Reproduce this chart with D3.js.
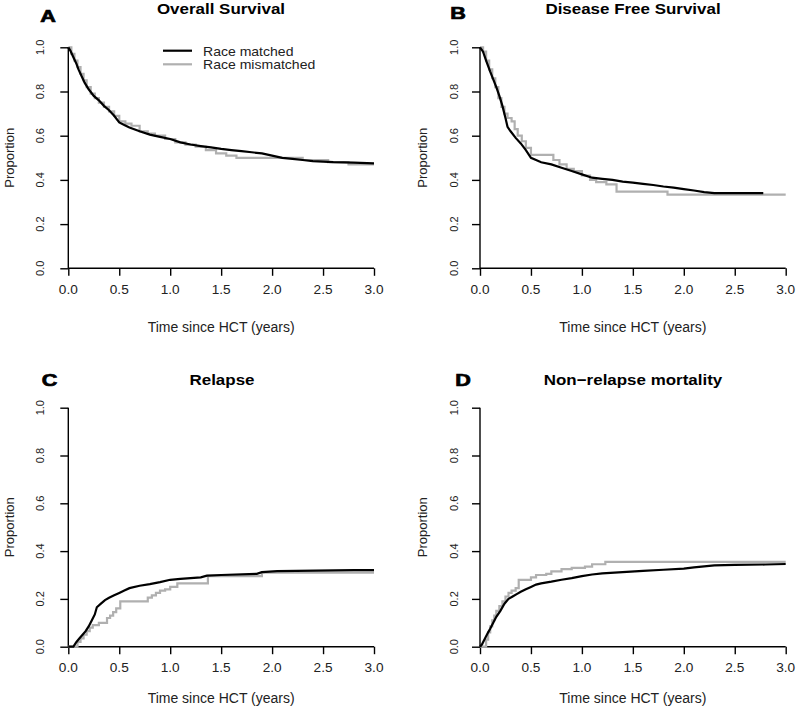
<!DOCTYPE html>
<html><head><meta charset="utf-8">
<script src="https://cdn.jsdelivr.net/npm/d3@7"></script>
<style>body{margin:0;background:#fff}svg{display:block}text{font-family:"Liberation Sans",Arial,Helvetica,sans-serif}</style>
</head><body>
<svg id="chart" width="800" height="707"></svg>
<script>
// ---- DATA ----
const seriesNames = ["Race matched", "Race mismatched"];
const panelLetters = ["A", "B", "C", "D"];
const panelTitles = ["Overall Survival", "Disease Free Survival", "Relapse", "Non\u2212relapse mortality"];
const xTicks = [0, 0.5, 1.0, 1.5, 2.0, 2.5, 3.0];
const yTicks = [0, 0.2, 0.4, 0.6, 0.8, 1.0];
const xLabel = "Time since HCT (years)";
const yLabel = "Proportion";

// A: Overall survival
const osMatchedT = [0,0.02,0.05,0.08,0.1,0.13,0.16,0.2,0.25,0.3,0.35,0.4,0.45,0.5,0.55,0.6,0.7,0.8,0.9,1.0,1.1,1.2,1.3,1.4,1.5,1.6,1.7,1.8,1.9,2.0,2.1,2.2,2.3,2.4,2.5,2.6,2.8,3.0];
const osMatchedV = [1,0.985,0.955,0.925,0.90,0.87,0.84,0.81,0.78,0.76,0.735,0.715,0.69,0.66,0.648,0.637,0.62,0.605,0.595,0.585,0.57,0.56,0.553,0.547,0.54,0.535,0.53,0.525,0.52,0.51,0.50,0.495,0.49,0.485,0.483,0.48,0.478,0.475];
const osMismT = [0,0.03,0.06,0.09,0.12,0.15,0.18,0.22,0.26,0.3,0.35,0.4,0.45,0.5,0.56,0.62,0.7,0.78,0.85,0.95,1.05,1.15,1.25,1.35,1.45,1.55,1.65,2.3,2.55,2.75,3.0];
const osMismV = [1,0.97,0.94,0.91,0.88,0.85,0.82,0.79,0.77,0.75,0.73,0.71,0.69,0.665,0.655,0.645,0.62,0.61,0.60,0.585,0.57,0.56,0.55,0.535,0.52,0.51,0.50,0.49,0.48,0.47,0.47];

// B: Disease free survival
const dfsMatchedT = [0,0.03,0.06,0.1,0.13,0.16,0.19,0.22,0.25,0.27,0.3,0.35,0.4,0.45,0.5,0.55,0.6,0.7,0.8,0.9,1.0,1.1,1.2,1.3,1.4,1.5,1.6,1.7,1.8,1.9,2.0,2.1,2.2,2.3,2.5,2.78];
const dfsMatchedV = [1,0.98,0.94,0.89,0.855,0.82,0.78,0.735,0.68,0.64,0.62,0.59,0.565,0.535,0.5,0.49,0.48,0.47,0.455,0.44,0.425,0.41,0.405,0.40,0.392,0.388,0.382,0.377,0.37,0.365,0.358,0.352,0.345,0.34,0.34,0.34];
const dfsMismT = [0,0.03,0.06,0.09,0.12,0.15,0.18,0.21,0.24,0.27,0.31,0.34,0.37,0.41,0.45,0.5,0.55,0.62,0.72,0.78,0.85,0.92,1.0,1.08,1.14,1.24,1.34,1.84,3.0];
const dfsMismV = [1,0.98,0.94,0.90,0.86,0.82,0.77,0.73,0.70,0.68,0.665,0.63,0.60,0.575,0.545,0.513,0.513,0.513,0.49,0.47,0.45,0.44,0.42,0.40,0.39,0.38,0.347,0.333,0.333];

// C: Relapse
const relMatchedT = [0,0.05,0.08,0.11,0.14,0.17,0.2,0.23,0.26,0.28,0.32,0.36,0.4,0.45,0.5,0.55,0.6,0.7,0.8,0.9,1.0,1.1,1.2,1.3,1.36,1.5,1.85,1.9,2.05,2.8,3.0];
const relMatchedV = [0,0,0.02,0.035,0.05,0.065,0.085,0.11,0.135,0.165,0.18,0.195,0.205,0.215,0.225,0.235,0.245,0.255,0.262,0.27,0.28,0.284,0.287,0.29,0.297,0.30,0.305,0.312,0.316,0.32,0.32];
const relMismT = [0,0.07,0.09,0.12,0.15,0.18,0.21,0.24,0.3,0.35,0.38,0.41,0.44,0.47,0.51,0.75,0.78,0.82,0.86,0.9,0.95,1.0,1.07,1.35,1.37,1.85,1.9,3.0];
const relMismV = [0,0,0.02,0.035,0.05,0.065,0.08,0.09,0.10,0.10,0.12,0.13,0.145,0.16,0.19,0.19,0.205,0.215,0.225,0.235,0.24,0.25,0.265,0.265,0.295,0.295,0.31,0.31];

// D: Non-relapse mortality
const nrmMatchedT = [0,0.02,0.05,0.08,0.1,0.13,0.16,0.2,0.24,0.28,0.32,0.36,0.4,0.45,0.5,0.55,0.6,0.7,0.8,0.9,1.0,1.1,1.2,1.4,1.6,1.8,2.0,2.1,2.2,2.3,2.5,2.8,3.0];
const nrmMatchedV = [0,0.01,0.035,0.06,0.075,0.1,0.125,0.15,0.18,0.2,0.21,0.22,0.23,0.24,0.25,0.26,0.265,0.272,0.28,0.287,0.295,0.302,0.307,0.312,0.317,0.322,0.327,0.332,0.336,0.34,0.342,0.344,0.346];
const nrmMismT = [0,0.04,0.06,0.08,0.1,0.12,0.14,0.16,0.19,0.22,0.25,0.28,0.31,0.35,0.38,0.45,0.5,0.55,0.65,0.7,0.8,0.9,1.03,1.1,1.23,3.0];
const nrmMismV = [0,0,0.03,0.06,0.085,0.11,0.13,0.15,0.17,0.19,0.21,0.225,0.235,0.245,0.28,0.28,0.29,0.30,0.305,0.315,0.325,0.33,0.335,0.345,0.355,0.355];

const seriesColors = ["#000000", "#b0b0b0"];

// ---- LAYOUT ----
const panels = [
  {x0:68.3, x1:374, yTop:47.3, yBot:268.3, m:[osMatchedT,osMatchedV], g:[osMismT,osMismV],
   letter:[48,21.5], title:[221,14], tickBase:294, xlabBase:331.5, ytickX:44, ylabX:13.5, legend:true},
  {x0:480, x1:785.7, yTop:47.3, yBot:268.3, m:[dfsMatchedT,dfsMatchedV], g:[dfsMismT,dfsMismV],
   letter:[458,18.5], title:[633,14], tickBase:294, xlabBase:331.5, ytickX:458, ylabX:426.5},
  {x0:68.3, x1:374, yTop:407.7, yBot:646.7, m:[relMatchedT,relMatchedV], g:[relMismT,relMismV],
   letter:[49.5,386], title:[222,385], tickBase:671.5, xlabBase:703.3, ytickX:44, ylabX:13.5},
  {x0:480, x1:785.7, yTop:407.7, yBot:646.7, m:[nrmMatchedT,nrmMatchedV], g:[nrmMismT,nrmMismV],
   letter:[463,386], title:[633,385], tickBase:671.5, xlabBase:703.3, ytickX:458, ylabX:426.5}
];

const svg = d3.select("#chart");

function stext(g, x, y, str, opts) {
  const t = g.append("text")
    .attr("transform", `translate(${x},${y})` + (opts.rot ? ` rotate(${opts.rot})` : "") + ` scale(${opts.sx||1},1)`)
    .attr("text-anchor", opts.anchor || "middle")
    .attr("font-size", opts.size)
    .attr("font-weight", opts.weight || "normal")
    .attr("fill", opts.fill || "#000")
    .text(str);
  if (opts.stroke) t.attr("stroke", "#000").attr("stroke-width", opts.stroke);
  return t;
}

panels.forEach((p, i) => {
  const g = svg.append("g");
  const x = d3.scaleLinear().domain([0, 3]).range([p.x0, p.x1]);
  const y = d3.scaleLinear().domain([0, 1]).range([p.yBot, p.yTop]);

  // x axis (R style: line spans ticks only)
  const xa = g.append("g").attr("transform", `translate(0,${p.yBot})`)
    .call(d3.axisBottom(x).tickValues(xTicks).tickSize(7.5).tickSizeOuter(0).tickFormat(d3.format(".1f")));
  xa.select(".domain").attr("d", `M${p.x0},0H${p.x1}`).attr("stroke-width", 1.4);
  xa.selectAll(".tick line").attr("stroke-width", 1.4);
  xa.selectAll(".tick text").remove();
  xTicks.forEach(v => stext(g, x(v), p.tickBase, d3.format(".1f")(v), {size: 13, sx: 1.05, fill:"#222"}));

  const ya = g.append("g").attr("transform", `translate(${p.x0},0)`)
    .call(d3.axisLeft(y).tickValues(yTicks).tickSize(8).tickSizeOuter(0));
  ya.select(".domain").attr("d", `M0,${p.yBot}V${p.yTop}`).attr("stroke-width", 1.4);
  ya.selectAll(".tick line").attr("stroke-width", 1.4);
  ya.selectAll(".tick text").remove();
  yTicks.forEach(v => stext(g, p.ytickX, y(v), d3.format(".1f")(v), {size: 11, rot: -90, fill:"#222"}));

  // labels
  stext(g, (p.x0 + p.x1) / 2, p.xlabBase, xLabel, {size: 14, fill:"#222"});
  stext(g, p.ylabX, (p.yTop + p.yBot) / 2, yLabel, {size: 13, rot: -90, fill:"#222"});
  stext(g, p.title[0], p.title[1], panelTitles[i], {size: 15, weight: "bold", sx: 1.13});
  stext(g, p.letter[0], p.letter[1], panelLetters[i], {size: 16, weight: "bold", sx: 1.35, stroke: 0.7});

  // curves
  const lineLin = d3.line().x(d => x(d[0])).y(d => y(d[1])).curve(d3.curveLinear);
  const lineStep = d3.line().x(d => x(d[0])).y(d => y(d[1])).curve(d3.curveStepAfter);
  const gm = d3.zip(p.g[0], p.g[1]);
  const mm = d3.zip(p.m[0], p.m[1]);
  g.append("path").attr("d", lineStep(gm)).attr("fill", "none").attr("stroke", seriesColors[1]).attr("stroke-width", 2.2);
  g.append("path").attr("d", lineLin(mm)).attr("fill", "none").attr("stroke", seriesColors[0]).attr("stroke-width", 2.2);

  if (p.legend) {
    const lg = g.append("g");
    seriesNames.forEach((nm, k) => {
      const ly = [50.7, 64.3][k];
      lg.append("line").attr("x1", 163).attr("x2", 192).attr("y1", ly).attr("y2", ly)
        .attr("stroke", seriesColors[k]).attr("stroke-width", 2.2);
      stext(lg, 203, [56, 69.3][k], nm, {size: 13, anchor: "start", sx: 1.08, fill:"#222"});
    });
  }
});
</script>
</body></html>
